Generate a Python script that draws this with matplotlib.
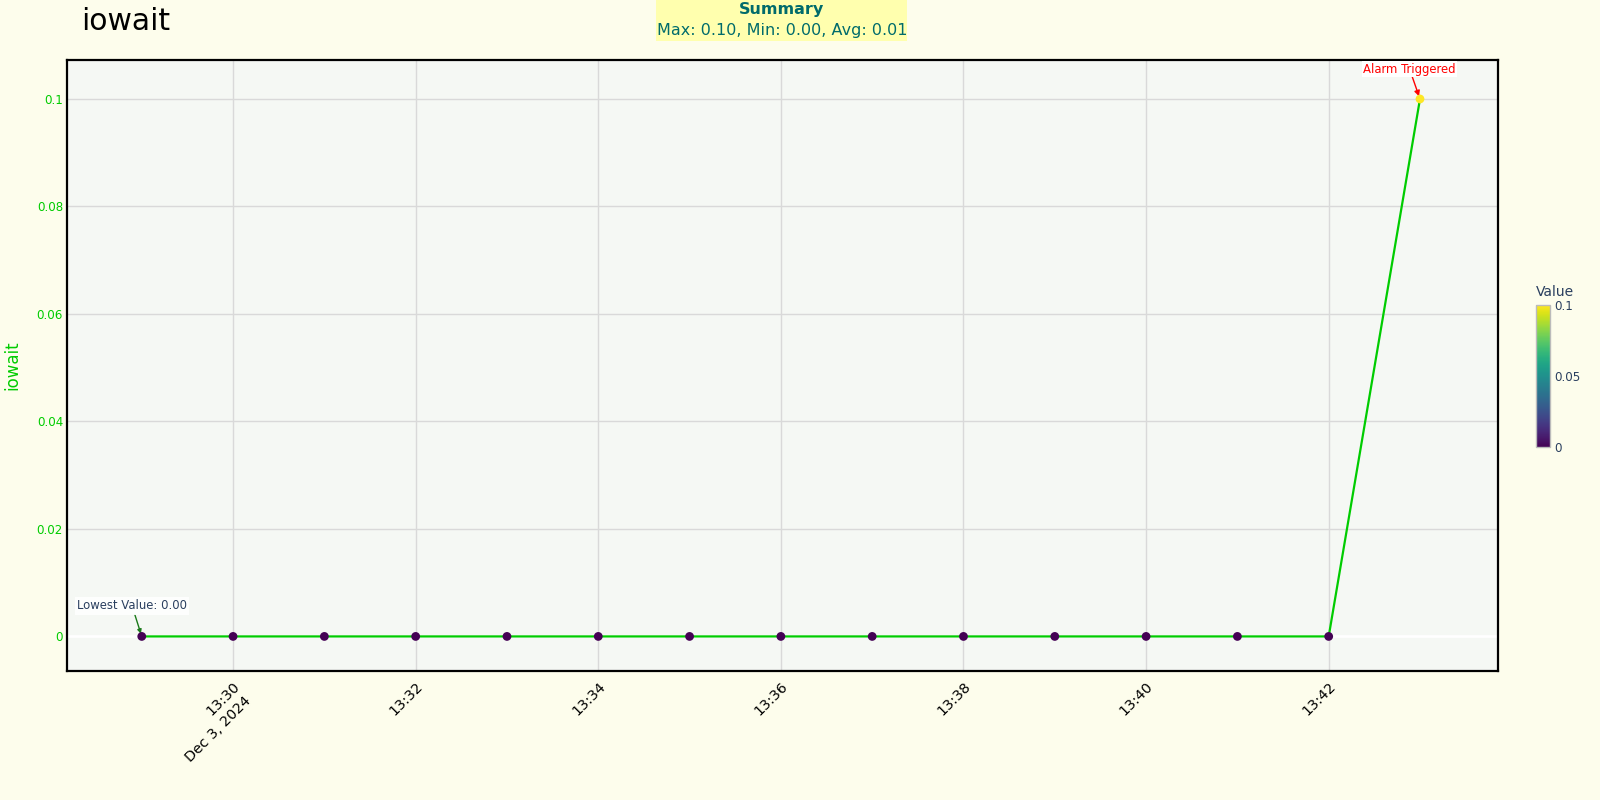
import matplotlib
matplotlib.use("Agg")
import matplotlib.pyplot as plt
import matplotlib.dates as mdates
import numpy as np
import pandas as pd
from matplotlib import cm
from matplotlib.colors import Normalize

# ---- data ----
times = pd.date_range("2024-12-03 13:29", "2024-12-03 13:43", freq="1min")
values = [0, 0, 0, 0, 0, 0, 0, 0, 0, 0, 0, 0, 0, 0, 0.1]
y_ticks = [0, 0.02, 0.04, 0.06, 0.08, 0.1]
y_tick_labels = ["0", "0.02", "0.04", "0.06", "0.08", "0.1"]
x_ticks = pd.date_range("2024-12-03 13:30", "2024-12-03 13:42", freq="2min")
x_tick_labels = ["13:30", "13:32", "13:34", "13:36", "13:38", "13:40", "13:42"]
date_label = "Dec 3, 2024"
cbar_ticks = [0, 0.05, 0.1]
cbar_tick_labels = ["0", "0.05", "0.1"]
summary_title = "Summary"
summary_text = "Max: 0.10, Min: 0.00, Avg: 0.01"

plt.rcParams['font.family'] = ['DejaVu Sans']
paper = "#fdfdec"
plotbg = "#f5f8f4"
green = "#00cc00"
slate = "#2a3f5f"
teal = "#006b6b"

fig = plt.figure(figsize=(16, 8), dpi=100, facecolor=paper)
ax = fig.add_axes([0.042, 0.161, 0.894, 0.764])
ax.set_facecolor(plotbg)

norm = Normalize(vmin=0, vmax=0.1)
cmap = plt.get_cmap("viridis")

ax.set_xlim(pd.Timestamp("2024-12-03 13:28:11"), pd.Timestamp("2024-12-03 13:43:51"))
ax.set_ylim(-0.00647, 0.10725)

ax.grid(True, color="#d9d9d9", linewidth=1)
ax.set_axisbelow(True)
ax.axhline(0, color="white", linewidth=2, zorder=1)

ax.plot(times, values, color=green, linewidth=1.6, zorder=3)
ax.scatter(times, values, c=values, cmap=cmap, norm=norm, s=40, zorder=4, linewidths=0)

ax.set_yticks(y_ticks)
ax.set_yticklabels(y_tick_labels, color=green, fontsize=8.6)
ax.set_xticks(x_ticks)
ax.set_xticklabels(x_tick_labels, rotation=45, ha="right", va="top",
                   rotation_mode="anchor", fontsize=10.3, color="black")
ax.tick_params(axis="both", length=0)
ax.tick_params(axis="y", pad=3)
ax.tick_params(axis="x", pad=6)
for s in ax.spines.values():
    s.set_color("black")
    s.set_linewidth(1.6)

# date line under the first tick label
ax.annotate(date_label, xy=(x_ticks[0], 0), xycoords=("data", "axes fraction"),
            xytext=(-10.8, -41.7), textcoords="offset points", rotation=45,
            rotation_mode="anchor", ha="center", va="center", fontsize=10.3, color="black",
            annotation_clip=False)

ax.set_ylabel("iowait", color=green, fontsize=12)
ax.yaxis.set_label_coords(-0.032, 0.5)

# title
fig.text(81 / 1600, 1 - 21 / 800, "iowait", fontsize=21.5, ha="left", va="center", color="black")

# summary box
box_l, box_r = 656 / 1600, 907 / 1600
box_b, box_t = 1 - 41 / 800, 1.0
fig.patches.append(plt.Rectangle((box_l, box_b), box_r - box_l, box_t - box_b,
                                 transform=fig.transFigure, fc="#ffffae", ec="none", zorder=0))
fig.text(782 / 1600, 1 - 9.5 / 800, summary_title, ha="center", va="center",
         fontsize=11.5, color=teal, fontweight="bold")
fig.text(782 / 1600, 1 - 30.5 / 800, summary_text, ha="center", va="center",
         fontsize=11.5, color=teal)

# annotations
ax.annotate("Alarm Triggered", xy=(times[-1], values[-1]), xytext=(-7.5, 21.5),
            textcoords="offset points", ha="center", va="center", color="red", fontsize=8.4,
            bbox=dict(boxstyle="square,pad=0.1", fc="white", ec="none"),
            arrowprops=dict(arrowstyle="-|>", color="red", lw=1, mutation_scale=8, shrinkA=0, shrinkB=2))
ax.annotate("Lowest Value: 0.00", xy=(times[0], values[0]), xytext=(-7, 22),
            textcoords="offset points", ha="center", va="center", color=slate, fontsize=8.4,
            bbox=dict(boxstyle="square,pad=0.2", fc="white", ec="none", alpha=0.9),
            arrowprops=dict(arrowstyle="-|>", color="#1a7a1a", lw=1, mutation_scale=6, shrinkA=0, shrinkB=2))

# colorbar
cax = fig.add_axes([0.96, 0.441, 0.00875, 0.1775])
sm = cm.ScalarMappable(norm=norm, cmap=cmap)
cb = fig.colorbar(sm, cax=cax)
cb.set_ticks(cbar_ticks)
cb.set_ticklabels(cbar_tick_labels)
cb.ax.tick_params(length=0, labelsize=8.6, labelcolor=slate, pad=3)
cb.outline.set_edgecolor("#bbbbbb")
cb.outline.set_linewidth(1)
fig.text(0.96, 1 - 292 / 800, "Value", fontsize=10, color=slate, ha="left", va="center")

fig.savefig("out.png", dpi=100, facecolor=paper)
